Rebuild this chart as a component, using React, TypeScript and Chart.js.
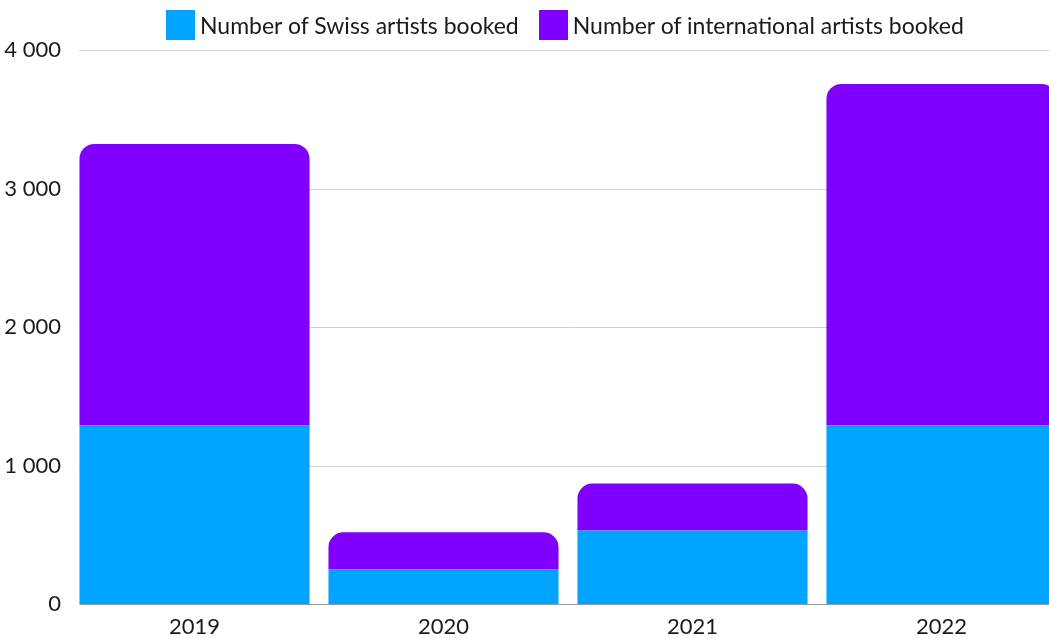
import React, { useEffect, useRef } from "react";
import { Chart, registerables } from "chart.js";

Chart.register(...registerables);

const years = ["2019", "2020", "2021", "2022"];
const swissArtists = [1290, 250, 530, 1290];
const internationalArtists = [2032, 268, 340, 2465];
const seriesLabels = ["Number of Swiss artists booked", "Number of international artists booked"];
const seriesColors = ["#00A3FF", "#8000FF"];
const yMax = 4000;
const yStep = 1000;

const FONT = "Lato, 'Noto Sans', sans-serif";
const TEXT = "#1a1a1a";

function formatThousands(v: number): string {
  return String(v).replace(/\B(?=(\d{3})+(?!\d))/g, " ");
}

const gridFromBarPlugin = {
  id: "gridFromBar",
  beforeDatasetsDraw(chart: any) {
    const yScale = chart.scales.y;
    const meta = chart.getDatasetMeta(0);
    const first: any = meta.data[0];
    if (!first) return;
    const x0 = first.x - first.width / 2;
    const ctx = chart.ctx;
    ctx.save();
    ctx.lineWidth = 1;
    yScale.ticks.forEach((t: any) => {
      const py = Math.round(yScale.getPixelForValue(t.value)) + 0.5;
      ctx.strokeStyle = t.value === 0 ? "#9a9a9a" : "#cfcfcf";
      ctx.beginPath();
      ctx.moveTo(x0, py);
      ctx.lineTo(chart.chartArea.right, py);
      ctx.stroke();
    });
    ctx.restore();
  },
};

export default function App() {
  const canvasRef = useRef<HTMLCanvasElement | null>(null);

  useEffect(() => {
    if (!canvasRef.current) return;
    const chart = new Chart(canvasRef.current, {
      type: "bar",
      data: {
        labels: years,
        datasets: [
          {
            label: seriesLabels[0],
            data: swissArtists,
            backgroundColor: seriesColors[0],
            borderWidth: 0,
            borderRadius: 0,
            categoryPercentage: 1,
            barPercentage: 0.924,
          },
          {
            label: seriesLabels[1],
            data: internationalArtists,
            backgroundColor: seriesColors[1],
            borderWidth: 0,
            borderRadius: { topLeft: 15, topRight: 15, bottomLeft: 0, bottomRight: 0 },
            borderSkipped: "start",
            categoryPercentage: 1,
            barPercentage: 0.924,
          },
        ],
      },
      options: {
        responsive: false,
        animation: false,
        layout: { padding: { top: 50, left: 0, right: 0, bottom: 0 } },
        plugins: {
          legend: { display: false },
          tooltip: { enabled: false },
        },
        scales: {
          x: {
            stacked: true,
            grid: { display: false, drawTicks: false },
            border: { display: false },
            ticks: {
              color: TEXT,
              font: { family: FONT, size: 22 },
              padding: 10,
            },
            afterFit: (scale: any) => {
              scale.height = 34;
            },
          },
          y: {
            stacked: true,
            min: 0,
            max: yMax,
            grid: { display: false, drawTicks: false },
            border: { display: false },
            ticks: {
              stepSize: yStep,
              color: TEXT,
              font: { family: FONT, size: 22 },
              padding: 9,
              callback: (v: any) => formatThousands(Number(v)),
            },
            afterFit: (scale: any) => {
              scale.width = 70;
            },
          },
        },
      },
      plugins: [gridFromBarPlugin],
    });
    return () => chart.destroy();
  }, []);

  return (
    <div
      style={{
        position: "fixed",
        left: 0,
        top: 0,
        width: 1049,
        height: 638,
        overflow: "hidden",
        background: "#fff",
      }}
    >
      <div
        style={{
          position: "absolute",
          left: 166,
          top: 10,
          display: "flex",
          alignItems: "center",
          fontFamily: FONT,
          fontSize: 23,
          color: TEXT,
          whiteSpace: "nowrap",
          zIndex: 2,
        }}
      >
        {seriesLabels.map((lab, i) => (
          <div key={lab} style={{ display: "flex", alignItems: "center", marginRight: i === 0 ? 20 : 0 }}>
            <span
              style={{
                display: "inline-block",
                width: 29,
                height: 30,
                background: seriesColors[i],
                marginRight: 5,
              }}
            />
            <span>{lab}</span>
          </div>
        ))}
      </div>
      <canvas
        ref={canvasRef}
        width={1066}
        height={638}
        style={{ position: "absolute", left: 0, top: 0, width: 1066, height: 638 }}
      />
    </div>
  );
}
